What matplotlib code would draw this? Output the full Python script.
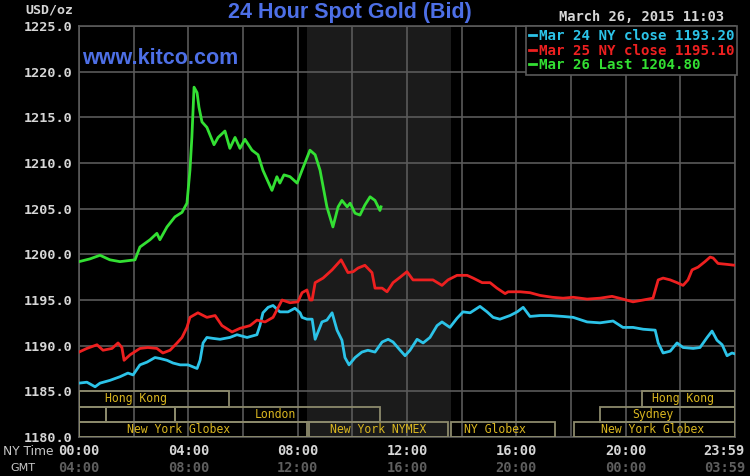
import numpy as np
import matplotlib
matplotlib.use('Agg')
import matplotlib.pyplot as plt
import matplotlib.transforms as mtransforms
from matplotlib.patches import Rectangle

# hours in NY time, price in USD/oz
mar24_t = [0.0, 0.29, 0.59, 0.77, 1.13, 1.50, 1.79, 1.98, 2.23, 2.49, 2.78, 2.96, 3.22, 3.44, 3.70,
           3.99, 4.32, 4.43, 4.54, 4.68, 4.90, 5.16, 5.52, 5.78, 6.15, 6.51, 6.62, 6.73, 6.92, 7.10,
           7.35, 7.65, 7.90, 8.09, 8.16, 8.34, 8.53, 8.64, 8.89, 9.07, 9.26, 9.44, 9.62, 9.73, 9.88,
           10.10, 10.35, 10.57, 10.83, 11.09, 11.31, 11.49, 11.75, 11.93, 12.11, 12.37, 12.59, 12.84,
           13.10, 13.28, 13.57, 13.83, 14.05, 14.31, 14.67, 14.93, 15.15, 15.40, 15.77, 16.03, 16.25,
           16.50, 16.87, 17.23, 17.71, 18.08, 18.59, 19.06, 19.54, 19.90, 20.27, 20.64, 21.08, 21.19,
           21.37, 21.63, 21.88, 22.10, 22.47, 22.72, 22.98, 23.16, 23.34, 23.53, 23.71, 23.89, 24.0]
mar24_v = [1185.9, 1186.0, 1185.5, 1185.9, 1186.2, 1186.6, 1187.0, 1186.8, 1187.9, 1188.2, 1188.7,
           1188.6, 1188.4, 1188.1, 1187.9, 1187.9, 1187.5, 1188.4, 1190.3, 1190.9, 1190.8, 1190.7,
           1190.9, 1191.2, 1190.9, 1191.2, 1192.2, 1193.6, 1194.2, 1194.4, 1193.7, 1193.7, 1194.1,
           1193.6, 1193.1, 1192.9, 1192.9, 1190.7, 1192.6, 1192.8, 1193.6, 1191.7, 1190.6, 1188.7,
           1187.9, 1188.7, 1189.3, 1189.5, 1189.3, 1190.4, 1190.7, 1190.4, 1189.5, 1188.9, 1189.5,
           1190.7, 1190.3, 1190.9, 1192.2, 1192.6, 1192.0, 1193.0, 1193.7, 1193.6, 1194.3, 1193.7,
           1193.1, 1192.9, 1193.3, 1193.7, 1194.2, 1193.2, 1193.3, 1193.3, 1193.2, 1193.1, 1192.6,
           1192.5, 1192.7, 1192.0, 1192.0, 1191.8, 1191.7, 1190.3, 1189.2, 1189.4, 1190.3, 1189.8,
           1189.7, 1189.8, 1190.9, 1191.6, 1190.6, 1190.1, 1188.9, 1189.2, 1189.1]

mar25_t = [0.0, 0.29, 0.66, 0.88, 1.21, 1.43, 1.57, 1.65, 1.87, 2.23, 2.52, 2.85, 3.07, 3.33, 3.59,
           3.77, 3.95, 4.06, 4.35, 4.68, 4.98, 5.23, 5.60, 5.89, 6.26, 6.51, 6.81, 7.10, 7.43, 7.72,
           8.01, 8.16, 8.34, 8.45, 8.53, 8.64, 8.93, 9.26, 9.59, 9.84, 10.03, 10.21, 10.46, 10.72,
           10.83, 11.09, 11.27, 11.49, 11.75, 12.00, 12.22, 12.55, 12.95, 13.28, 13.50, 13.83, 14.20,
           14.42, 14.75, 15.04, 15.29, 15.59, 15.70, 16.14, 16.50, 16.87, 17.31, 17.71, 18.08, 18.59,
           19.06, 19.50, 19.90, 20.27, 20.64, 21.00, 21.19, 21.37, 21.63, 21.88, 22.10, 22.28, 22.43,
           22.65, 22.90, 23.09, 23.20, 23.38, 23.71, 24.0]
mar25_v = [1189.3, 1189.7, 1190.1, 1189.5, 1189.7, 1190.3, 1189.8, 1188.4, 1189.0, 1189.7, 1189.8,
           1189.7, 1189.2, 1189.5, 1190.3, 1190.9, 1192.0, 1193.1, 1193.6, 1193.1, 1193.3, 1192.2,
           1191.5, 1191.9, 1192.2, 1192.8, 1192.6, 1193.1, 1195.0, 1194.7, 1194.8, 1195.8, 1196.1,
           1195.0, 1195.0, 1196.9, 1197.4, 1198.3, 1199.4, 1198.0, 1198.1, 1198.5, 1198.8, 1198.0,
           1196.3, 1196.3, 1195.9, 1196.9, 1197.5, 1198.1, 1197.2, 1197.2, 1197.2, 1196.6, 1197.2,
           1197.7, 1197.7, 1197.4, 1196.9, 1196.9, 1196.3, 1195.7, 1195.9, 1195.9, 1195.8, 1195.5,
           1195.3, 1195.2, 1195.3, 1195.1, 1195.2, 1195.4, 1195.1, 1194.8, 1195.0, 1195.2, 1197.2,
           1197.4, 1197.2, 1196.9, 1196.6, 1197.2, 1198.3, 1198.6, 1199.2, 1199.7, 1199.6, 1199.0,
           1198.9, 1198.8]

mar26_t = [0.0, 0.40, 0.77, 1.13, 1.50, 2.05, 2.23, 2.60, 2.85, 2.96, 3.22, 3.51, 3.77, 3.95, 4.06,
           4.13, 4.21, 4.32, 4.39, 4.50, 4.68, 4.94, 5.09, 5.34, 5.52, 5.71, 5.89, 6.07, 6.33, 6.55,
           6.73, 7.06, 7.24, 7.35, 7.50, 7.72, 7.98, 8.16, 8.45, 8.64, 8.82, 9.07, 9.29, 9.48, 9.62,
           9.81, 9.92, 10.10, 10.28, 10.46, 10.65, 10.83, 11.01, 11.05]
mar26_v = [1199.2, 1199.5, 1199.9, 1199.4, 1199.2, 1199.4, 1200.8, 1201.6, 1202.3, 1201.6, 1203.0,
           1204.1, 1204.6, 1205.6, 1209.2, 1212.8, 1218.3, 1217.7, 1216.1, 1214.5, 1213.9, 1212.0,
           1212.8, 1213.5, 1211.6, 1212.8, 1211.6, 1212.6, 1211.4, 1210.9, 1209.2, 1207.0, 1208.5,
           1207.8, 1208.7, 1208.5, 1207.8, 1209.2, 1211.4, 1210.9, 1209.2, 1205.2, 1203.0, 1205.2,
           1205.9, 1205.2, 1205.6, 1204.5, 1204.3, 1205.4, 1206.3, 1205.9, 1204.8, 1205.2]

series_labels = ['Mar 24 NY close 1193.20', 'Mar 25 NY close 1195.10', 'Mar 26 Last 1204.80']
series_colors = ['#2cc3e8', '#ee2020', '#33e033']

# trading sessions: name, start, end, row (0 = top), label position
session_names = ['Hong Kong', 'Hong Kong', '', '', 'London', 'Sydney',
                 'New York Globex', 'New York NYMEX', 'NY Globex', 'New York Globex']
session_start = [0.0, 20.6, 0.0, 1.0, 3.5, 19.06, 0.0, 8.4, 13.6, 18.1]
session_end = [5.5, 24.0, 1.0, 3.5, 11.0, 24.0, 8.33, 13.5, 17.4, 24.0]
session_row = [0, 0, 1, 1, 1, 1, 2, 2, 2, 2]
session_label_x = [2.1, 22.1, 0.5, 2.25, 7.2, 21.0, 3.65, 10.95, 15.2, 21.0]

nymex_span = (8.33, 13.6)

ny_ticks = ['00:00', '04:00', '08:00', '12:00', '16:00', '20:00', '23:59']
gmt_ticks = ['04:00', '08:00', '12:00', '16:00', '20:00', '00:00', '03:59']
tick_hours = [0, 4, 8, 12, 16, 20, 24]

mono = 'DejaVu Sans Mono'
blue = '#4d6fe6'
grid_c = '#5a5a5a'

fig = plt.figure(figsize=(7.5, 4.76), dpi=100, facecolor='black')
ax = fig.add_axes([0.1053, 0.0819, 0.8747, 0.8635], facecolor='black')
ax.set_xlim(0, 24)
ax.set_ylim(1180, 1225)

ax.axvspan(*nymex_span, color='#1b1b1b', zorder=0, lw=0)

ax.set_xticks(np.arange(0, 25, 2))
ax.set_xticklabels([])
ax.set_yticks(np.arange(1180, 1226, 5))
ax.yaxis.set_major_formatter('{x:.1f}')
ax.tick_params(length=0, labelcolor='#d6d6d6', labelsize=9.7, pad=5)
for lbl in ax.get_yticklabels():
    lbl.set_fontfamily(mono)
    lbl.set_fontweight('bold')
ax.grid(True, color=grid_c, linewidth=1.2)
for sp in ax.spines.values():
    sp.set_color(grid_c)
    sp.set_linewidth(1.2)

handles = []
for t, v, lab, c in zip([mar24_t, mar25_t, mar26_t], [mar24_v, mar25_v, mar26_v],
                        series_labels, series_colors):
    h, = ax.plot(t, v, color=c, lw=2.0, label=lab, zorder=4, solid_joinstyle='round')
    handles.append(h)

# session boxes along the bottom
row_h = 5.0 / 3
for name, s, e, r, lx in zip(session_names, session_start, session_end, session_row, session_label_x):
    y0 = 1185 - (r + 1) * row_h
    ax.add_patch(Rectangle((s, y0), e - s, row_h, fill=False, edgecolor='#8c8a6c',
                           lw=1.3, zorder=3))
    if name:
        ax.text(lx, y0 + row_h / 2, name, ha='center', va='center', color='#d9b620',
                fontsize=8.3, family=mono, zorder=5)

leg = ax.legend(handles=handles, loc='upper right', bbox_to_anchor=(1.003, 1.0), borderaxespad=0,
                frameon=True, facecolor='black', edgecolor=grid_c, framealpha=1, fancybox=False,
                prop={'family': mono, 'weight': 'bold', 'size': 10.2}, labelcolor='linecolor',
                handlelength=0.5, handletextpad=0.2, labelspacing=0.05, borderpad=0.2)
leg.get_frame().set_linewidth(1.2)
leg.set_zorder(6)

# time labels under the axis
tr = mtransforms.blended_transform_factory(ax.transData, fig.transFigure)
shift = mtransforms.ScaledTranslation(10 / 100, 0, fig.dpi_scale_trans)
for i, (h, ny, gm) in enumerate(zip(tick_hours, ny_ticks, gmt_ticks)):
    ha = 'right' if i == len(tick_hours) - 1 else 'center'
    t = tr + shift if ha == 'right' else tr
    ax.text(h, 0.0525, ny, transform=t, ha=ha, va='center', color='#d6d6d6',
            fontsize=9.8, family=mono, fontweight='bold', clip_on=False)
    ax.text(h, 0.0168, gm, transform=t, ha=ha, va='center', color='#5e5e5e',
            fontsize=9.8, family=mono, fontweight='bold', clip_on=False)
fig.text(3 / 750, 0.0525, 'NY Time', ha='left', va='center', color='#c8c8c8', fontsize=8.8)
fig.text(23 / 750, 0.0168, 'GMT', ha='center', va='center', color='#c8c8c8', fontsize=8)

fig.text(73 / 750, 1 - 10 / 476, 'USD/oz', ha='right', va='center', color='#d6d6d6',
         fontsize=9.5, family=mono, fontweight='bold')
fig.text(0.466, 1 - 12.5 / 476, '24 Hour Spot Gold (Bid)', ha='center', va='center', color=blue,
         fontsize=15.5, fontweight='bold', family='Liberation Sans')
fig.text(82 / 750, 1 - 58 / 476, 'www.kitco.com', ha='left', va='center', color=blue,
         fontsize=15.5, fontweight='bold', family='Liberation Sans')
fig.text(724 / 750, 1 - 17 / 476, 'March 26, 2015 11:03', ha='right', va='center', color='#d6d6d6',
         fontsize=9.9, family=mono, fontweight='bold')

fig.savefig('out.png', dpi=100, facecolor='black')
